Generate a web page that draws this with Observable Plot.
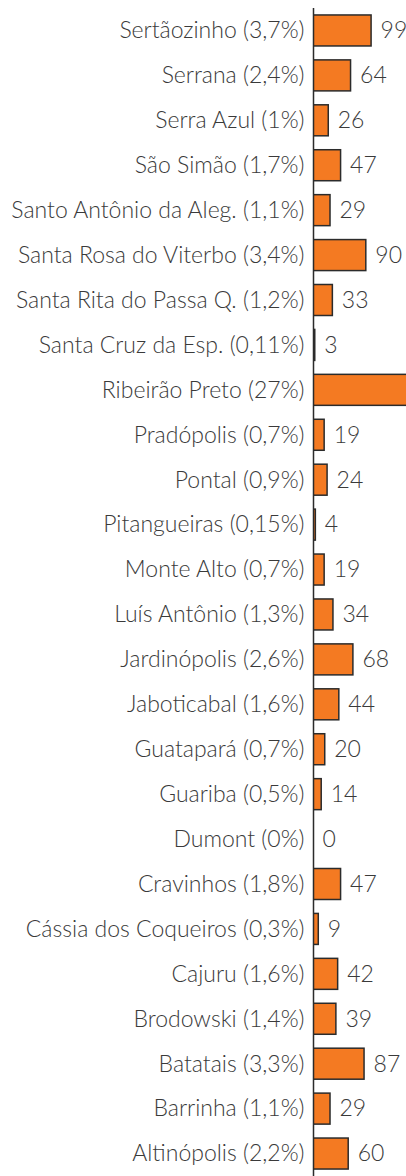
<!DOCTYPE html>
<html><head><meta charset="utf-8">
<script src="https://cdn.jsdelivr.net/npm/d3@7"></script>
<script src="https://cdn.jsdelivr.net/npm/@observablehq/plot@0.6"></script>
<style>
html,body{margin:0;padding:0;background:#fff;}
#chart svg{overflow:hidden;}
</style>
</head><body><div id="chart"></div>
<script>
const labels = [
  "Sertãozinho (3,7%)","Serrana (2,4%)","Serra Azul (1%)","São Simão (1,7%)",
  "Santo Antônio da Aleg. (1,1%)","Santa Rosa do Viterbo (3,4%)","Santa Rita do Passa Q. (1,2%)",
  "Santa Cruz da Esp. (0,11%)","Ribeirão Preto (27%)","Pradópolis (0,7%)","Pontal (0,9%)",
  "Pitangueiras (0,15%)","Monte Alto (0,7%)","Luís Antônio (1,3%)","Jardinópolis (2,6%)",
  "Jaboticabal (1,6%)","Guatapará (0,7%)","Guariba (0,5%)","Dumont (0%)","Cravinhos (1,8%)",
  "Cássia dos Coqueiros (0,3%)","Cajuru (1,6%)","Brodowski (1,4%)","Batatais (3,3%)",
  "Barrinha (1,1%)","Altinópolis (2,2%)"
];
const values = [99,64,26,47,29,90,33,3,722,19,24,4,19,34,68,44,20,14,0,47,9,42,39,87,29,60];
const data = labels.map((l,i)=>({label:l, value:values[i]}));

const chart = Plot.plot({
  width: 406,
  height: 1176,
  marginTop: 8,
  marginBottom: 0,
  marginLeft: 313,
  marginRight: 0,
  style: {fontFamily: "Lato", fontWeight: 300, color: "#3a3a3a", background: "#fff"},
  x: {domain: [0, 158.5], axis: null},
  y: {domain: labels, paddingInner: 0.31, paddingOuter: 0.155, round: false, label: null},
  marks: [
    Plot.barX(data, {y: "label", x: "value", fill: "#f47a22", stroke: "#2b2b2b", strokeWidth: 1.5, clip: true}),
    Plot.text(data.filter(d=>d.value<158), {y: "label", x: "value", text: d=>String(d.value), dx: 9, textAnchor: "start", fontSize: 23, fontWeight: 300, fill: "#3a3a3a"}),
    Plot.axisY({tickSize: 0, tickPadding: 9, fontSize: 23, fontWeight: 300, label: null, fill: "#3a3a3a"}),
    Plot.ruleX([0], {stroke: "#2b2b2b", strokeWidth: 1.5})
  ]
});
document.getElementById("chart").appendChild(chart);
</script>
</body></html>
